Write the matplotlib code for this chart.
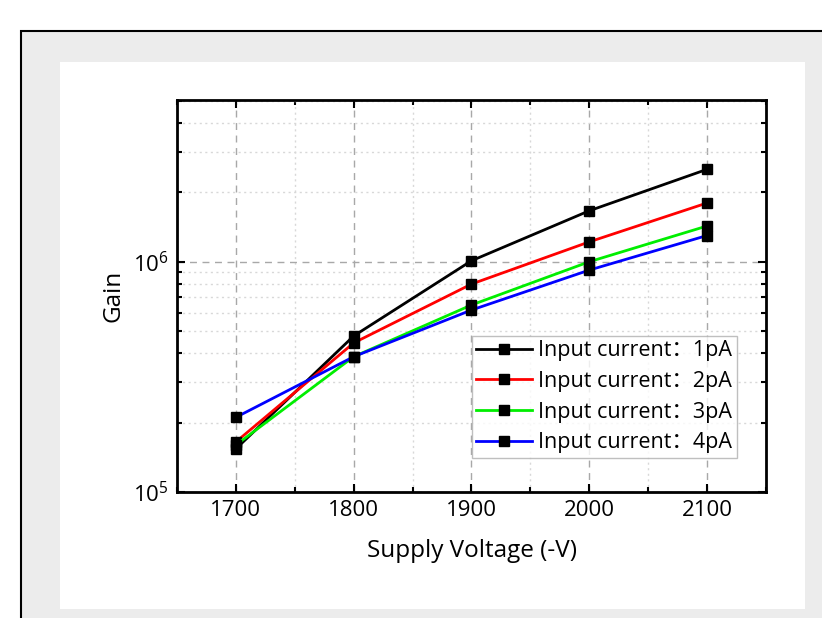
import matplotlib
matplotlib.use("Agg")
import matplotlib.pyplot as plt
from matplotlib.ticker import LogLocator, NullFormatter, MultipleLocator
from matplotlib.patches import Rectangle

plt.rcParams['font.family'] = ['Open Sans', 'Noto Sans CJK SC', 'DejaVu Sans']
plt.rcParams['mathtext.fontset'] = 'custom'
plt.rcParams['mathtext.rm'] = 'Open Sans'

voltage = [1700, 1800, 1900, 2000, 2100]
gain_1pA = [1.54e5, 4.76e5, 1.01e6, 1.665e6, 2.52e6]
gain_2pA = [1.65e5, 4.44e5, 8.0e5, 1.22e6, 1.80e6]
gain_3pA = [1.60e5, 3.87e5, 6.49e5, 1.0e6, 1.43e6]
gain_4pA = [2.11e5, 3.87e5, 6.17e5, 9.2e5, 1.30e6]
labels = ['Input current：1pA', 'Input current：2pA', 'Input current：3pA', 'Input current：4pA']
colors = ['black', 'red', '#00ee00', 'blue']

W, H = 822, 618
fig = plt.figure(figsize=(W / 100, H / 100), dpi=100, facecolor='white')
# gray panel with black frame (right/bottom edges off the image), white plot area
fig.patches.append(Rectangle((21 / W, -0.1), 1.2, 1.1 - 31 / H, transform=fig.transFigure,
                             facecolor='#ececec', edgecolor='black', linewidth=1.5, zorder=-3))
fig.patches.append(Rectangle((60 / W, 1 - 609 / H), (805 - 60) / W, (609 - 62) / H,
                             transform=fig.transFigure, facecolor='white', edgecolor='none', zorder=-2))

ax = fig.add_axes([177 / W, 1 - 492 / H, (766 - 177) / W, (492 - 100) / H])
ax.set_facecolor('white')

for ys, c, lab in zip([gain_1pA, gain_2pA, gain_3pA, gain_4pA], colors, labels):
    ax.plot(voltage, ys, color=c, linewidth=2, marker='s', markersize=6.5,
            markerfacecolor='black', markeredgecolor='black', label=lab)

ax.set_yscale('log')
ax.set_xlim(1650, 2150)
ax.set_ylim(1e5, 5.04e6)
ax.xaxis.set_major_locator(MultipleLocator(100))
ax.xaxis.set_minor_locator(MultipleLocator(50))
ax.yaxis.set_major_locator(LogLocator(base=10))
ax.yaxis.set_minor_locator(LogLocator(base=10, subs=range(2, 10)))
ax.yaxis.set_minor_formatter(NullFormatter())

ax.grid(True, which='major', linestyle=(0, (5, 4)), color='#a8a8a8', linewidth=1)
ax.grid(True, which='minor', linestyle=(0, (1.5, 2.5)), color='#d8d8d8', linewidth=1)
ax.set_axisbelow(True)

for s in ax.spines.values():
    s.set_linewidth(2)
ax.tick_params(which='both', direction='in', top=True, right=True, width=1.5)
ax.tick_params(which='major', length=6, labelsize=16, pad=6)
ax.tick_params(which='minor', length=3.5)

ax.set_xlabel('Supply Voltage (-V)', fontsize=17.5, labelpad=13)
ax.set_ylabel('Gain', fontsize=17.5, labelpad=5)

leg = ax.legend(loc='lower right', bbox_to_anchor=(0.95, 0.088), fontsize=15.5, frameon=True,
                fancybox=False, edgecolor='#b0b0b0', handlelength=2.6, handletextpad=0.3,
                borderpad=0.2, labelspacing=0.45, borderaxespad=0)
leg.get_frame().set_linewidth(1)

fig.savefig('out.png', dpi=100)
